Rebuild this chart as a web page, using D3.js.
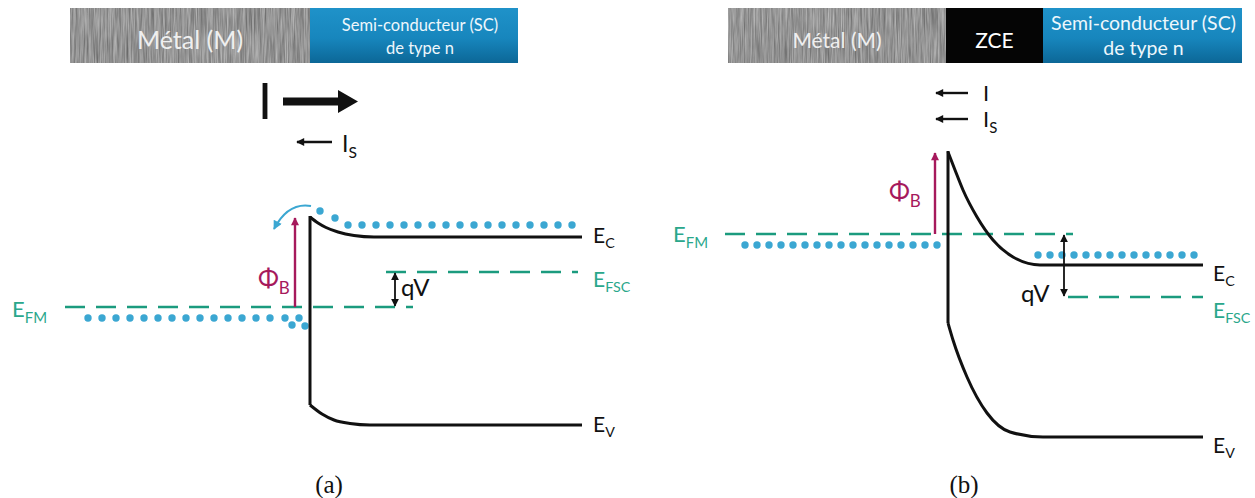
<!DOCTYPE html>
<html>
<head>
<meta charset="utf-8">
<script src="https://cdn.jsdelivr.net/npm/d3@7"></script>
<style>
  body { margin: 0; background: #fff; }
  svg { display: block; font-family: Lato, "Open Sans", sans-serif; }
</style>
</head>
<body>
<svg id="fig" width="1255" height="498"></svg>
<script>
// Band diagrams of a metal / n-type semiconductor Schottky contact.
// Positions in nm from the interface, energies in eV relative to the metal Fermi level.

// ---- (a) forward bias ----
const aConduction = [[0, 0.90], [4, 0.84], [8, 0.795], [14, 0.75], [22, 0.715], [32, 0.70], [136, 0.70]];
const aValence    = [[0, -0.98], [6, -1.07], [12, -1.13], [20, -1.165], [30, -1.18], [136, -1.18]];
const aFermiMetal = { from: -122.5, to: 51.5, E: 0 };
const aFermiSC    = { from: 38, to: 134, E: 0.35 };
const aBarrierX   = -7.5;
const aBarrier    = 0.89;
const aBiasX      = 42.5;
const aElectronsSC = [[5, 0.96], [12.5, 0.89], [19, 0.82], [26, 0.82], [33, 0.82], [40, 0.82], [47, 0.82],
  [54, 0.82], [61, 0.82], [68, 0.82], [75, 0.82], [82, 0.82], [89, 0.82], [96, 0.82], [103, 0.82],
  [110, 0.82], [117, 0.82], [124, 0.82], [131, 0.82]];
const aElectronsM = [[-111, -0.11], [-104, -0.11], [-97, -0.11], [-90, -0.11], [-83, -0.11], [-76, -0.11],
  [-69, -0.11], [-62, -0.11], [-55, -0.11], [-48, -0.11], [-41, -0.11], [-34, -0.11], [-27, -0.11],
  [-20, -0.11], [-12.5, -0.11], [-9, -0.18], [-5.5, -0.11], [-2.5, -0.19]];
const aHeader = [
  { kind: "metal", from: -120, to: 0,   lines: ["Métal (M)"] },
  { kind: "sc",    from: 0,    to: 104, lines: ["Semi-conducteur (SC)", "de type n"] }
];

// ---- (b) reverse bias ----
const bConduction = [[0, 0.82], [3.5, 0.64], [7.5, 0.44], [14.5, 0.17], [22.5, -0.06], [32.5, -0.23], [46, -0.31], [127.5, -0.31]];
const bValence    = [[0, -0.89], [2.5, -1.06], [9.5, -1.43], [19.5, -1.79], [31, -1.98], [47.5, -2.03], [127.5, -2.03]];
const bFermiMetal = { from: -111.5, to: 62.5, E: 0 };
const bFermiSC    = { from: 60, to: 127.5, E: -0.63 };
const bBarrierX   = -6.5;
const bBarrier    = 0.81;
const bBiasX      = 58;
const bElectronsM = [[-101.5, -0.11], [-95.5, -0.11], [-89.5, -0.11], [-83.5, -0.11], [-77.5, -0.11],
  [-71.5, -0.11], [-65.5, -0.11], [-59.5, -0.11], [-53.5, -0.11], [-47.5, -0.11], [-41.5, -0.11],
  [-35.5, -0.11], [-29.5, -0.11], [-23.5, -0.11], [-17.5, -0.11], [-11.5, -0.11], [-5.5, -0.11]];
const bElectronsSC = [[45, -0.21], [51, -0.21], [57, -0.21], [63, -0.21], [69, -0.21], [75, -0.21], [81, -0.21],
  [87, -0.21], [93, -0.21], [99, -0.21], [105, -0.21], [111, -0.21], [117, -0.21], [123, -0.21]];
const bHeader = [
  { kind: "metal", from: -110, to: -1,  lines: ["Métal (M)"] },
  { kind: "zce",   from: -1,   to: 47.5, lines: ["ZCE"] },
  { kind: "sc",    from: 47.5, to: 147, lines: ["Semi-conducteur (SC)", "de type n"] }
];

// ---- colours ----
const TEAL = "#1b9b7e", TEAL_TXT = "#2aa78b", MAG = "#a6195c", BLUE = "#3ba7d2", INK = "#111";

const svg = d3.select("#fig");
const defs = svg.append("defs");

// brushed-metal texture for the metal block
const brushed = defs.append("filter").attr("id", "brushed")
  .attr("x", 0).attr("y", 0).attr("width", "100%").attr("height", "100%")
  .attr("color-interpolation-filters", "sRGB");
brushed.append("feTurbulence").attr("type", "fractalNoise")
  .attr("baseFrequency", "0.7 0.03").attr("numOctaves", 3).attr("seed", 7).attr("result", "noise");
brushed.append("feColorMatrix").attr("in", "noise").attr("type", "matrix")
  .attr("values", "0.4 0 0 0 0.38  0.4 0 0 0 0.38  0.4 0 0 0 0.38  0 0 0 0 1").attr("result", "grey");
brushed.append("feComposite").attr("in", "grey").attr("in2", "SourceGraphic").attr("operator", "in");

const scGrad = defs.append("linearGradient").attr("id", "scGrad").attr("x1", 0).attr("y1", 0).attr("x2", 0).attr("y2", 1);
scGrad.append("stop").attr("offset", "0%").attr("stop-color", "#1f92c9");
scGrad.append("stop").attr("offset", "55%").attr("stop-color", "#1786bd");
scGrad.append("stop").attr("offset", "100%").attr("stop-color", "#0c6797");

function marker(id, color, w, h) {
  defs.append("marker").attr("id", id)
    .attr("viewBox", "0 0 10 10").attr("refX", 9).attr("refY", 5)
    .attr("markerWidth", w).attr("markerHeight", h)
    .attr("markerUnits", "userSpaceOnUse").attr("orient", "auto-start-reverse")
    .append("path").attr("d", "M0,0L10,5L0,10z").attr("fill", color);
}
marker("headMag", MAG, 9, 8);
marker("headInk", INK, 8, 8);
marker("headSmall", INK, 10, 8);
marker("headBlue", BLUE, 10, 9);

// text with an optional subscript
function label(g, x, y, main, sub, size, color, anchor) {
  const t = g.append("text").attr("x", x).attr("y", y)
    .attr("font-size", size).attr("fill", color).attr("text-anchor", anchor || "start");
  t.append("tspan").text(main);
  if (sub) t.append("tspan").attr("font-size", size * 0.68).attr("dy", size * 0.26).text(sub);
  return t;
}

function drawPanel(p) {
  const g = svg.append("g");
  const { x, y } = p;

  // header blocks
  const HT = 8, HB = 63;
  p.header.forEach(h => {
    const x0 = x(h.from), x1 = x(h.to);
    g.append("rect").attr("x", x0).attr("y", HT).attr("width", x1 - x0).attr("height", HB - HT)
      .attr("fill", h.kind === "metal" ? "#a0a0a0" : h.kind === "zce" ? "#050505" : "url(#scGrad)")
      .attr("filter", h.kind === "metal" ? "url(#brushed)" : null);
    const cx = (x0 + x1) / 2 + (h.kind === "sc" ? p.scShift : 0);
    if (h.lines.length === 1) {
      g.append("text").attr("x", cx).attr("y", p.headBase)
        .attr("text-anchor", "middle").attr("font-size", h.kind === "zce" ? p.zceSize : p.metalSize)
        .attr("fill", h.kind === "zce" ? "#fff" : "#efefef").text(h.lines[0]);
    } else {
      h.lines.forEach((s, i) => g.append("text").attr("x", cx).attr("y", p.scBase[i])
        .attr("text-anchor", "middle").attr("font-size", p.scSize).attr("fill", "#eef7fc").text(s));
    }
  });

  // Fermi levels
  [p.fermiM, p.fermiSC].forEach(l => g.append("line")
    .attr("x1", x(l.from)).attr("x2", x(l.to)).attr("y1", y(l.E)).attr("y2", y(l.E))
    .attr("stroke", TEAL).attr("stroke-width", 2.6).attr("stroke-dasharray", "20 11"));

  // electrons
  g.selectAll(null).data(p.electronsM.concat(p.electronsSC)).join("circle")
    .attr("cx", d => x(d[0])).attr("cy", d => y(d[1])).attr("r", 3.7).attr("fill", BLUE);

  // band edges
  const band = d3.line().x(d => x(d[0])).y(d => y(d[1])).curve(d3.curveMonotoneX);
  g.append("path").attr("d", band(p.conduction)).attr("fill", "none").attr("stroke", INK).attr("stroke-width", 3);
  g.append("path").attr("d", band(p.valence)).attr("fill", "none").attr("stroke", INK).attr("stroke-width", 3);
  g.append("line").attr("x1", x(p.conduction[0][0])).attr("x2", x(p.valence[0][0]))
    .attr("y1", y(p.conduction[0][1]) - 1).attr("y2", y(p.valence[0][1]))
    .attr("stroke", INK).attr("stroke-width", 3);

  // barrier height
  g.append("line").attr("x1", x(p.barrierX)).attr("x2", x(p.barrierX))
    .attr("y1", y(0)).attr("y2", y(p.barrier))
    .attr("stroke", MAG).attr("stroke-width", 2.4).attr("marker-end", "url(#headMag)");

  // applied bias qV
  g.append("line").attr("x1", x(p.biasX)).attr("x2", x(p.biasX))
    .attr("y1", y(p.fermiM.E) + (p.fermiSC.E > 0 ? -1 : 1)).attr("y2", y(p.fermiSC.E) + (p.fermiSC.E > 0 ? 1 : -1))
    .attr("stroke", INK).attr("stroke-width", 1.8)
    .attr("marker-start", "url(#headInk)").attr("marker-end", "url(#headInk)");

  // labels
  const last = p.conduction[p.conduction.length - 1];
  const lastV = p.valence[p.valence.length - 1];
  label(g, x(p.labelX), y(last[1]) + p.dyC, "E", "C", 21, INK);
  label(g, x(p.labelX), y(p.fermiSC.E) + p.dyF, "E", "FSC", 21, TEAL_TXT);
  label(g, x(p.labelX), y(lastV[1]) + p.dyV, "E", "V", 21, INK);
  label(g, x(p.fmLabelX), y(0) + p.dyFM, "E", "FM", 22, TEAL_TXT);
  label(g, x(p.phiX), y(0) + p.dyPhi, "Φ", "B", 25, MAG);
  g.append("text").attr("x", x(p.qvX)).attr("y", y(p.qvE) + p.dyQV)
    .attr("font-size", 24).attr("fill", INK).text("qV");
  g.append("text").attr("x", p.tagX).attr("y", 493).attr("text-anchor", "middle")
    .style("font-family", "'Liberation Serif', 'DejaVu Serif', serif").attr("font-size", 25)
    .attr("fill", INK).text(p.tag);
  return g;
}

// 2 px per nm horizontally, 100 px per eV vertically
const xA = d3.scaleLinear().domain([0, 100]).range([310, 510]);
const yA = d3.scaleLinear().domain([0, 1]).range([307, 207]);
const xB = d3.scaleLinear().domain([0, 100]).range([948, 1148]);
const yB = d3.scaleLinear().domain([0, 1]).range([234, 134]);

const gA = drawPanel({
  x: xA, y: yA, header: aHeader, headBase: 49, metalSize: 25, zceSize: 21,
  scSize: 16.5, scBase: [31, 54], scShift: 6,
  conduction: aConduction, valence: aValence, fermiM: aFermiMetal, fermiSC: aFermiSC,
  electronsM: aElectronsM, electronsSC: aElectronsSC,
  barrierX: aBarrierX, barrier: aBarrier, biasX: aBiasX,
  labelX: 141.5, dyC: 6, dyF: 15, dyV: 7, fmLabelX: -149, dyFM: 10,
  phiX: -26, dyPhi: -20, qvX: 45.5, qvE: 0, dyQV: -11, tagX: 329, tag: "(a)"
});

// electrons crossing back over the barrier (a)
gA.append("path")
  .attr("d", `M${xA(0.5)},${yA(1.01)} Q${xA(-11)},${yA(1.05)} ${xA(-18)},${yA(0.78)}`)
  .attr("fill", "none").attr("stroke", BLUE).attr("stroke-width", 2).attr("marker-end", "url(#headBlue)");

// current arrows (a)
gA.append("text").attr("x", 258).attr("y", 119).attr("font-size", 50).attr("fill", INK).text("I");
gA.append("path").attr("d", "M283,97.5 L338,97.5 L338,90 L358,101.5 L338,113 L338,105.5 L283,105.5 Z").attr("fill", INK);
gA.append("line").attr("x1", 332).attr("x2", 297).attr("y1", 142).attr("y2", 142)
  .attr("stroke", INK).attr("stroke-width", 2.4).attr("marker-end", "url(#headSmall)");
label(gA, 342, 152, "I", "S", 23, INK);

const gB = drawPanel({
  x: xB, y: yB, header: bHeader, headBase: 48, metalSize: 21, zceSize: 21,
  scSize: 19.5, scBase: [30, 55], scShift: 1,
  conduction: bConduction, valence: bValence, fermiM: bFermiMetal, fermiSC: bFermiSC,
  electronsM: bElectronsM, electronsSC: bElectronsSC,
  barrierX: bBarrierX, barrier: bBarrier, biasX: bBiasX,
  labelX: 132.5, dyC: 16, dyF: 21, dyV: 16, fmLabelX: -137.5, dyFM: 8,
  phiX: -29.5, dyPhi: -34, qvX: 36.5, qvE: -0.63, dyQV: 5, tagX: 964, tag: "(b)"
});

// current arrows (b)
[[93, "I", null], [119, "I", "S"]].forEach(([yy, m, s]) => {
  gB.append("line").attr("x1", 968).attr("x2", 936).attr("y1", yy).attr("y2", yy)
    .attr("stroke", INK).attr("stroke-width", 2.4).attr("marker-end", "url(#headSmall)");
  label(gB, 983, yy + 8, m, s, 22, INK);
});
</script>
</body>
</html>
